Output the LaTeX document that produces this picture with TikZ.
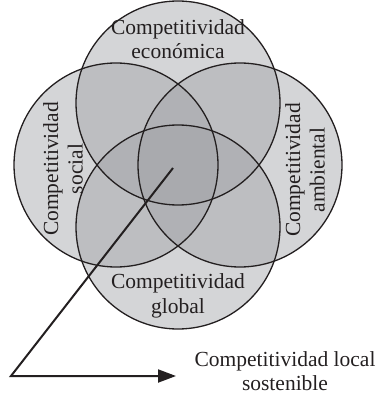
\documentclass[tikz,border=0pt]{standalone}
\usepackage{fontspec}
\setmainfont{Liberation Serif}
\usepackage{tikz}
\usetikzlibrary{arrows.meta}
\usetikzlibrary{shapes,positioning}
\definecolor{vennGray}{RGB}{160,162,166}
\definecolor{inkBlack}{RGB}{35,31,32}
\tikzset{venn-fill/.style={circle, inner sep=0, minimum size=204pt, fill=vennGray, fill opacity=0.45}}
\tikzset{venn-line/.style={circle, inner sep=0, minimum size=204pt, draw=inkBlack, line width=1.3pt}}
\tikzset{venn-label/.style={align=center, inner sep=0, text=inkBlack, font=\fontsize{21.5}{24.5}\selectfont}}
\tikzset{arrow-line/.style={draw=inkBlack, line width=2pt, -{Triangle[length=18pt,width=13pt]}}}

\begin{document}
\begin{tikzpicture}[x=1pt, y=-1pt]
            \useasboundingbox (0,0) rectangle (376,398);
            \node[venn-fill] (eco) at (178,103) {};
            \node[venn-fill] (soc) at (116,165) {};
            \node[venn-fill] (amb) at (240,165) {};
            \node[venn-fill] (glo) at (178,227) {};

            % redraw
            \node[venn-line] at (eco) {};
            \node[venn-line] at (soc) {};
            \node[venn-line] at (amb) {};
            \node[venn-line] at (glo) {};

            \node[venn-label] (ecotext) at (178,39) {Competitividad\\económica};
            \node[venn-label, rotate=90] (soctext) at (63,169) {Competitividad\\social};
            \node[venn-label, rotate=90] (ambtext) at (305,170) {Competitividad\\ambiental};
            \node[venn-label] (glotext) at (178,296) {Competitividad\\global};
            \node[venn-label] (localtext) at (285,371) {Competitividad local\\sostenible};

            \coordinate (core) at (173,168);
            \coordinate (corner) at (11,376);
            \coordinate (tip) at (176,376);
            \draw[arrow-line] (core) -- (corner) -- (tip);
        \end{tikzpicture}
\end{document}
